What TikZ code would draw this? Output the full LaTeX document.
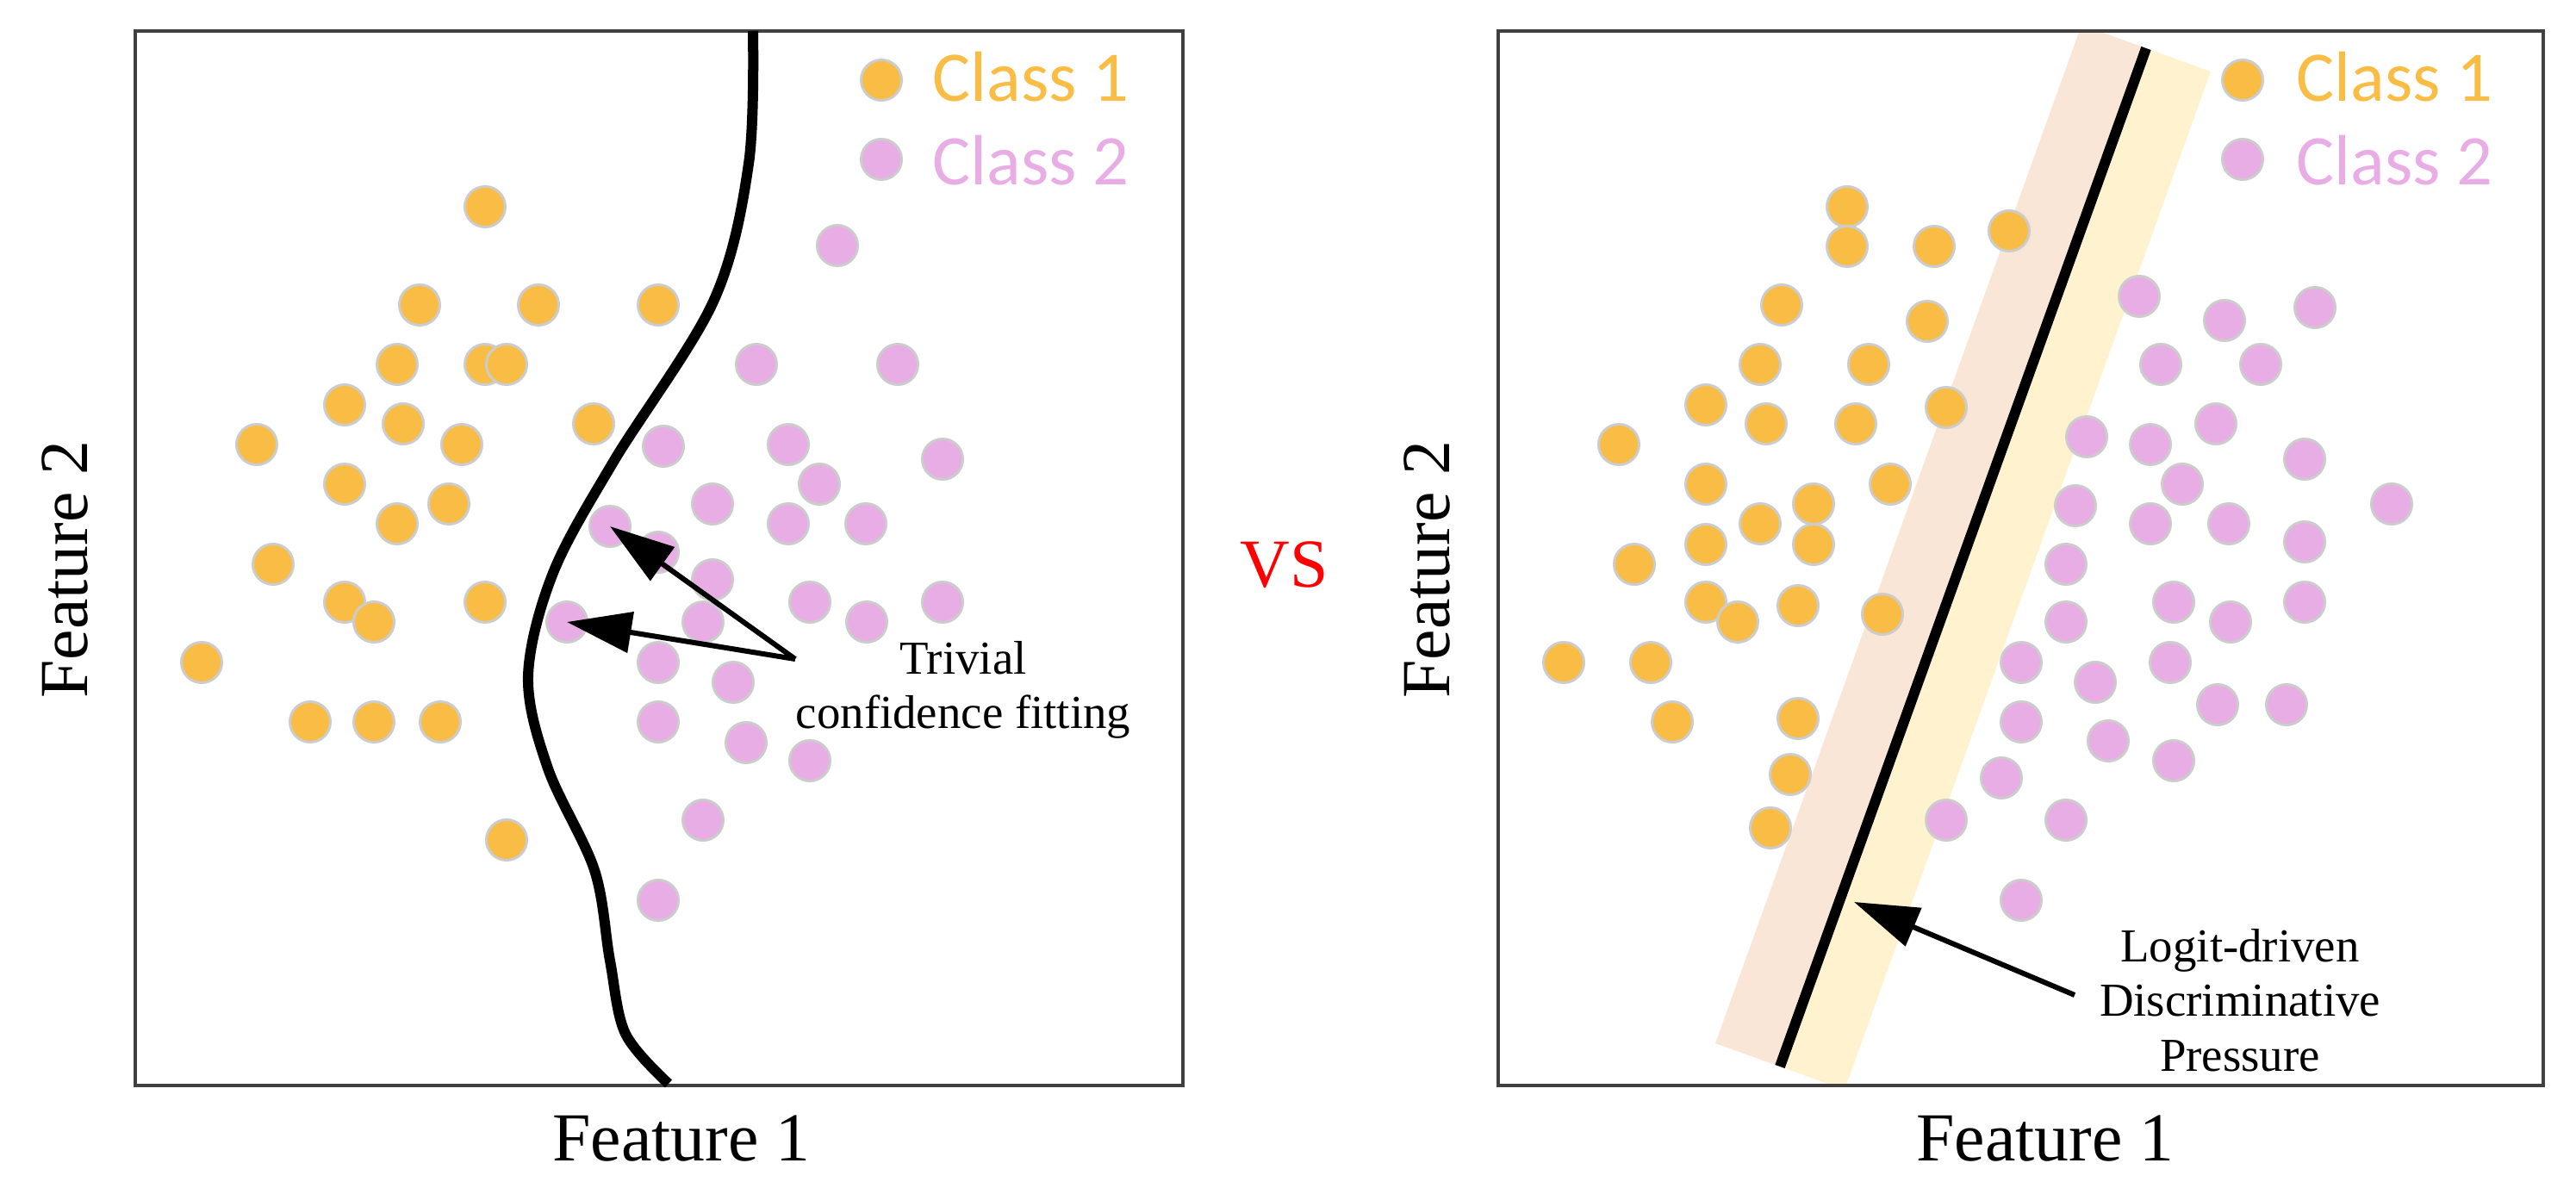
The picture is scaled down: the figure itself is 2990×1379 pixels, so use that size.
\documentclass[tikz,border=0pt]{standalone}
\usepackage{fontspec}
\setmainfont{Liberation Serif}
\newfontfamily\keyfont{Carlito}
\usetikzlibrary{arrows.meta,calc}
\definecolor{dotorange}{HTML}{F9BD45}
\definecolor{dotpink}{HTML}{E9ADE5}
\definecolor{bandpeach}{HTML}{FAE6D6}
\definecolor{bandyellow}{HTML}{FEF2CF}
\definecolor{framegray}{HTML}{404040}

\begin{document}
\begin{tikzpicture}[x=0.01cm,y=-0.01cm,
  panel/.style={draw=framegray,line width=0.04cm,inner sep=0pt},
  dotA/.style={circle,fill=dotorange,draw=gray!40,line width=0.03cm,
    minimum size=0.47cm,inner sep=0pt},
  dotB/.style={dotA,fill=dotpink},
  featlabel/.style={font=\fontsize{22.7}{27}\selectfont,inner sep=0pt},
  keytext/.style={font=\keyfont\fontsize{23.5}{28}\selectfont,inner sep=0pt,
    anchor=base west},
  remark/.style={font=\fontsize{15.6}{18}\selectfont,align=center,inner sep=0pt},
  boundary/.style={line width=0.12cm,black},
  arr/.style={-{Triangle[length=0.75cm,width=0.47cm]},line width=0.06cm}]
  \useasboundingbox (0,0) rectangle (2990,1379);

  % margin band round the linear boundary
  \coordinate (lineTop) at (2491,56);
  \coordinate (lineBot) at (2066,1238);
  \begin{scope}
    \clip (1739,36) rectangle (2952,1260);
    \fill[bandpeach] (lineTop) -- ($(lineTop)+(-75,-27)$) -- ($(lineBot)+(-75,-27)$)
      -- (lineBot) -- cycle;
    \fill[bandyellow] (lineTop) -- ($(lineTop)+(75,27)$) -- ($(lineBot)+(75,27)$)
      -- (lineBot) -- cycle;
  \end{scope}

  % panels
  \node[panel,minimum width=12.16cm,minimum height=12.24cm] (panelL) at (765,648) {};
  \node[panel,minimum width=12.13cm,minimum height=12.24cm] (panelR) at (2345.5,648) {};

  % left panel, class 1
  \foreach \px/\py [count=\i] in {563/240,487/354,625/354,764/354,461/423,
      563/423,588/423,400/470,468/492,298/516,536/516,689/492,400/562,521/585,
      461/608,317/655,400/699,434/722,563/699,234/769,360/838,434/838,511/838,
      588/975}
    \node[dotA] (oneL-\i) at (\px,\py) {};
  % left panel, class 2
  \foreach \px/\py [count=\i] in {972/285,878/423,1042/423,770/518,915/516,
      1094/533,951/562,827/585,915/608,1005/608,764/641,827/673,816/722,
      940/699,1006/722,1094/699,764/769,851/792,764/838,866/862,940/883,
      816/952,764/1045}
    \node[dotB] (twoL-\i) at (\px,\py) {};
  \node[dotB] (tgtUp) at (708,611) {};
  \node[dotB] (tgtLow) at (658,722) {};

  % right panel, class 1
  \foreach \px/\py [count=\i] in {2144/240,2144/286,2245/286,2332/268,2068/354,
      2237/373,2043/423,2169/423,1980/470,2050/492,2154/492,2259/473,1879/516,
      1980/562,2194/562,2105/585,2043/608,1980/632,2105/632,1897/655,1980/699,
      2017/722,2087/703,2185/713,1815/769,1916/769,1941/838,2087/834,2078/899,
      2055/961}
    \node[dotA] (oneR-\i) at (\px,\py) {};
  % right panel, class 2
  \foreach \px/\py [count=\i] in {2483/344,2582/372,2687/357,2508/423,2624/423,
      2422/507,2496/516,2572/492,2675/533,2533/562,2409/587,2496/608,2587/608,
      2776/585,2675/629,2398/655,2523/699,2589/722,2675/699,2398/722,2346/769,
      2432/792,2519/769,2574/818,2654/818,2346/838,2447/860,2523/883,2323/903,
      2259/952,2398/952,2346/1045}
    \node[dotB] (twoR-\i) at (\px,\py) {};

  % legends
  \node[dotA] (keyL1) at (1023,93) {};
  \node[dotB] (keyL2) at (1023,185) {};
  \node[keytext,text=dotorange] (classL1) at (1082,118) {Class 1};
  \node[keytext,text=dotpink] (classL2) at (1082,215) {Class 2};
  \node[dotA] (keyR1) at (2603,93) {};
  \node[dotB] (keyR2) at (2603,185) {};
  \node[keytext,text=dotorange] (classR1) at (2665,118) {Class 1};
  \node[keytext,text=dotpink] (classR2) at (2665,215) {Class 2};

  % decision boundaries
  \draw[boundary] plot[smooth,tension=0.55] coordinates {(874,36) (869,190)
    (828,350) (712,536) (642,665) (613,785) (636,892) (690,1010) (708,1115)
    (726,1200) (776,1258)};
  \draw[boundary] (lineTop) -- (lineBot);

  % annotations
  \node[remark] (trivial) at (1118,801) {Trivial\\confidence fitting};
  \coordinate (trivialTail) at (923,765);
  \draw[arr] (trivialTail) -- (tgtUp.center);
  \draw[arr] (trivialTail) -- (tgtLow.center);
  \node[remark] (pressure) at (2600,1161) {Logit-driven\\Discriminative\\Pressure};
  \coordinate (pressureTail) at (2408,1155);
  \coordinate (pressureTip) at (2152,1047);
  \draw[arr] (pressureTail) -- (pressureTip);

  % axis labels
  \node[featlabel,anchor=base] (xlabL) at (791,1347) {Feature 1};
  \node[featlabel,anchor=base] (xlabR) at (2374,1347) {Feature 1};
  \node[featlabel,anchor=base,rotate=90] (ylabL) at (101,661) {Feature 2};
  \node[featlabel,anchor=base,rotate=90] (ylabR) at (1682,661) {Feature 2};
  \node[featlabel,anchor=base,text=red] (vs) at (1491,681) {VS};
\end{tikzpicture}
\end{document}
